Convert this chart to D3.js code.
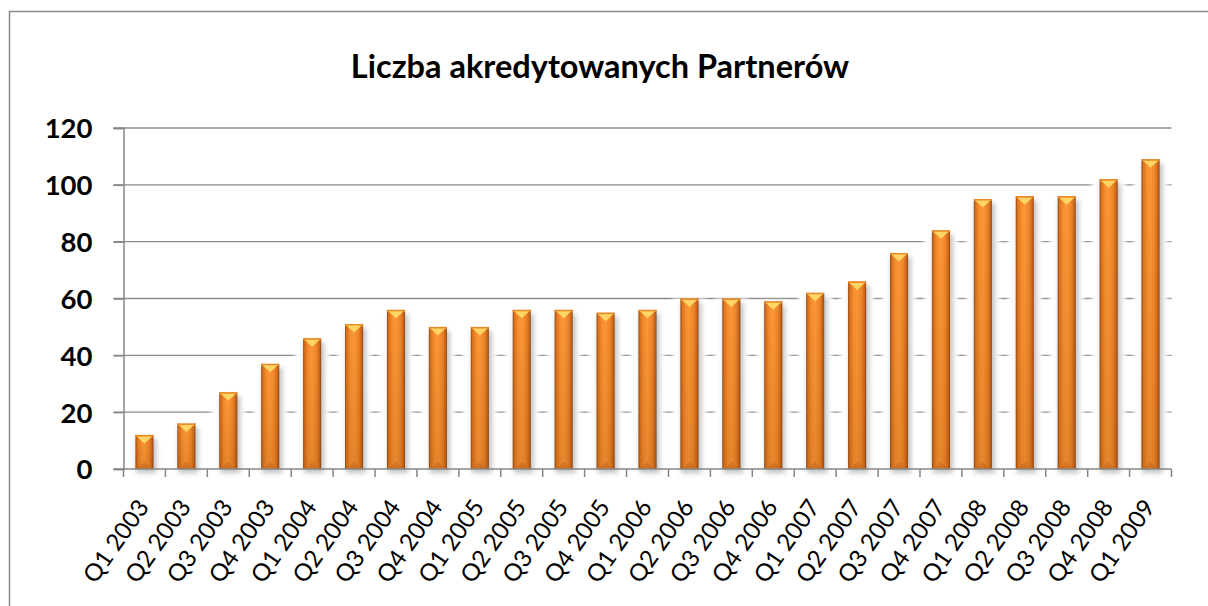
<!DOCTYPE html>
<html>
<head>
<meta charset="utf-8">
<script src="https://cdn.jsdelivr.net/npm/d3@7"></script>
<style>
	html, body { margin: 0; padding: 0; background: #fff; }
	svg { display: block; font-family: Lato, 'Noto Sans', sans-serif; }
</style>
</head>
<body>
<div id="chart"></div>
<script>
const title = 'Liczba akredytowanych Partnerów';

const categories = [
	'Q1 2003', 'Q2 2003', 'Q3 2003', 'Q4 2003',
	'Q1 2004', 'Q2 2004', 'Q3 2004', 'Q4 2004',
	'Q1 2005', 'Q2 2005', 'Q3 2005', 'Q4 2005',
	'Q1 2006', 'Q2 2006', 'Q3 2006', 'Q4 2006',
	'Q1 2007', 'Q2 2007', 'Q3 2007', 'Q4 2007',
	'Q1 2008', 'Q2 2008', 'Q3 2008', 'Q4 2008',
	'Q1 2009'
];

const partners = [
	12, 16, 27, 37,
	46, 51, 56, 50,
	50, 56, 56, 55,
	56, 60, 60, 59,
	62, 66, 76, 84,
	95, 96, 96, 102,
	109
];

const yTicks = [0, 20, 40, 60, 80, 100, 120];

const width = 1208;
const height = 606;
const plot = { left: 123.5, right: 1171.5, top: 128, bottom: 469 };

const svg = d3.select('#chart').append('svg')
	.attr('width', width)
	.attr('height', height);

const defs = svg.append('defs');

// bar body: cylinder-like horizontal shading
const barGrad = defs.append('linearGradient').attr('id', 'barGrad');
[
	['0%', '#8c4611'], ['9%', '#d9711d'], ['30%', '#f98f2f'],
	['50%', '#fb9838'], ['75%', '#ef8528'], ['92%', '#c9641a'], ['100%', '#854210']
].forEach(([o, c]) => barGrad.append('stop').attr('offset', o).attr('stop-color', c));

// slight darkening towards the base
const shadeGrad = defs.append('linearGradient').attr('id', 'shadeGrad')
	.attr('x1', 0).attr('x2', 0).attr('y1', 0).attr('y2', 1);
shadeGrad.append('stop').attr('offset', '0%').attr('stop-color', '#7a3a00').attr('stop-opacity', 0);
shadeGrad.append('stop').attr('offset', '100%').attr('stop-color', '#7a3a00').attr('stop-opacity', 0.18);

defs.append('filter').attr('id', 'glow').attr('x', '-50%').attr('width', '200%')
	.append('feGaussianBlur').attr('stdDeviation', 2);
defs.append('filter').attr('id', 'soft').attr('x', '-50%').attr('y', '-50%')
	.attr('width', '200%').attr('height', '200%')
	.append('feGaussianBlur').attr('stdDeviation', 2.5);

// chart frame (runs off the right and bottom edges)
svg.append('rect')
	.attr('x', 9.5).attr('y', 11.5)
	.attr('width', 1210).attr('height', 620)
	.attr('fill', '#fff')
	.attr('stroke', '#8c8c8c')
	.attr('stroke-width', 1.5);

svg.append('text')
	.attr('x', 600)
	.attr('y', 78)
	.attr('text-anchor', 'middle')
	.attr('font-size', 32.5)
	.attr('font-weight', 'bold')
	.attr('fill', '#000')
	.text(title);

const x = d3.scaleBand()
	.domain(categories)
	.range([plot.left, plot.right]);

const y = d3.scaleLinear()
	.domain([0, 120])
	.range([plot.bottom, plot.top]);

const barW = x.bandwidth() * 0.43;
const barX = d => x(d.cat) + (x.bandwidth() - barW) / 2;
const data = categories.map((cat, i) => ({ cat, value: partners[i] }));

// gridlines
svg.append('g')
	.selectAll('line')
	.data(yTicks.filter(t => t > 0))
	.join('line')
	.attr('x1', plot.left - 10)
	.attr('x2', plot.right)
	.attr('y1', d => y(d))
	.attr('y2', d => y(d))
	.attr('stroke', '#8a8a8a')
	.attr('stroke-width', 1.3);

// white halo around each bar hides the gridlines next to it
svg.append('g')
	.selectAll('rect')
	.data(data)
	.join('rect')
	.attr('x', d => barX(d) - 8)
	.attr('y', d => y(d.value))
	.attr('width', barW + 16)
	.attr('height', d => plot.bottom - y(d.value))
	.attr('fill', '#fff')
	.attr('filter', 'url(#glow)');

// soft drop shadow
svg.append('g')
	.selectAll('rect')
	.data(data)
	.join('rect')
	.attr('x', d => barX(d) + 1)
	.attr('y', d => y(d.value) + 4)
	.attr('width', barW + 2)
	.attr('height', d => plot.bottom - y(d.value))
	.attr('fill', '#777')
	.attr('opacity', 0.45)
	.attr('filter', 'url(#soft)');

const bars = svg.append('g')
	.selectAll('g')
	.data(data)
	.join('g');

bars.append('rect')
	.attr('x', barX)
	.attr('y', d => y(d.value))
	.attr('width', barW)
	.attr('height', d => plot.bottom - y(d.value))
	.attr('fill', 'url(#barGrad)');

bars.append('rect')
	.attr('x', barX)
	.attr('y', d => y(d.value))
	.attr('width', barW)
	.attr('height', d => plot.bottom - y(d.value))
	.attr('fill', 'url(#shadeGrad)');

// top bevel: orange rim and yellow chevron
bars.append('rect')
	.attr('x', barX)
	.attr('y', d => y(d.value))
	.attr('width', barW)
	.attr('height', 2)
	.attr('fill', '#e98a25');

bars.append('polygon')
	.attr('points', d => {
		const x0 = barX(d), top = y(d.value) + 1.5;
		return [[x0 + 1.5, top], [x0 + barW - 1.5, top], [x0 + barW / 2, top + 7]].join(' ');
	})
	.attr('fill', '#ffd566');

// bottom bevel
bars.append('polygon')
	.attr('points', d => {
		const x0 = barX(d);
		return [[x0 + 1.5, plot.bottom], [x0 + barW - 1.5, plot.bottom], [x0 + barW / 2, plot.bottom - 7]].join(' ');
	})
	.attr('fill', '#c8661c')
	.attr('opacity', 0.6);

// y axis
const yAxis = svg.append('g')
	.attr('transform', `translate(${plot.left},0)`)
	.call(d3.axisLeft(y).tickValues(yTicks).tickSize(10).tickPadding(21));
yAxis.select('.domain').attr('stroke', '#868686').attr('stroke-width', 1.5);
yAxis.selectAll('.tick line').attr('stroke', '#868686').attr('stroke-width', 1.5);
yAxis.selectAll('.tick text')
	.attr('font-family', 'Lato, sans-serif')
	.attr('font-size', 27.5)
	.attr('font-weight', 'bold')
	.attr('fill', '#000')
	.attr('dy', '0.36em');

// x axis line and ticks at the band edges
svg.append('line')
	.attr('x1', plot.left - 10).attr('x2', plot.right)
	.attr('y1', plot.bottom).attr('y2', plot.bottom)
	.attr('stroke', '#868686').attr('stroke-width', 1.5);

svg.append('g')
	.selectAll('line')
	.data(categories.concat(null))
	.join('line')
	.attr('x1', d => d === null ? plot.right : x(d))
	.attr('x2', d => d === null ? plot.right : x(d))
	.attr('y1', plot.bottom)
	.attr('y2', plot.bottom + 8)
	.attr('stroke', '#868686')
	.attr('stroke-width', 1.5);

svg.append('g')
	.selectAll('text')
	.data(categories)
	.join('text')
	.attr('transform', d => `translate(${x(d) + x.bandwidth() / 2 + 5.5},${plot.bottom + 38}) rotate(-55)`)
	.attr('text-anchor', 'end')
	.attr('font-size', 24)
	.attr('fill', '#000')
	.text(d => d);
</script>
</body>
</html>
